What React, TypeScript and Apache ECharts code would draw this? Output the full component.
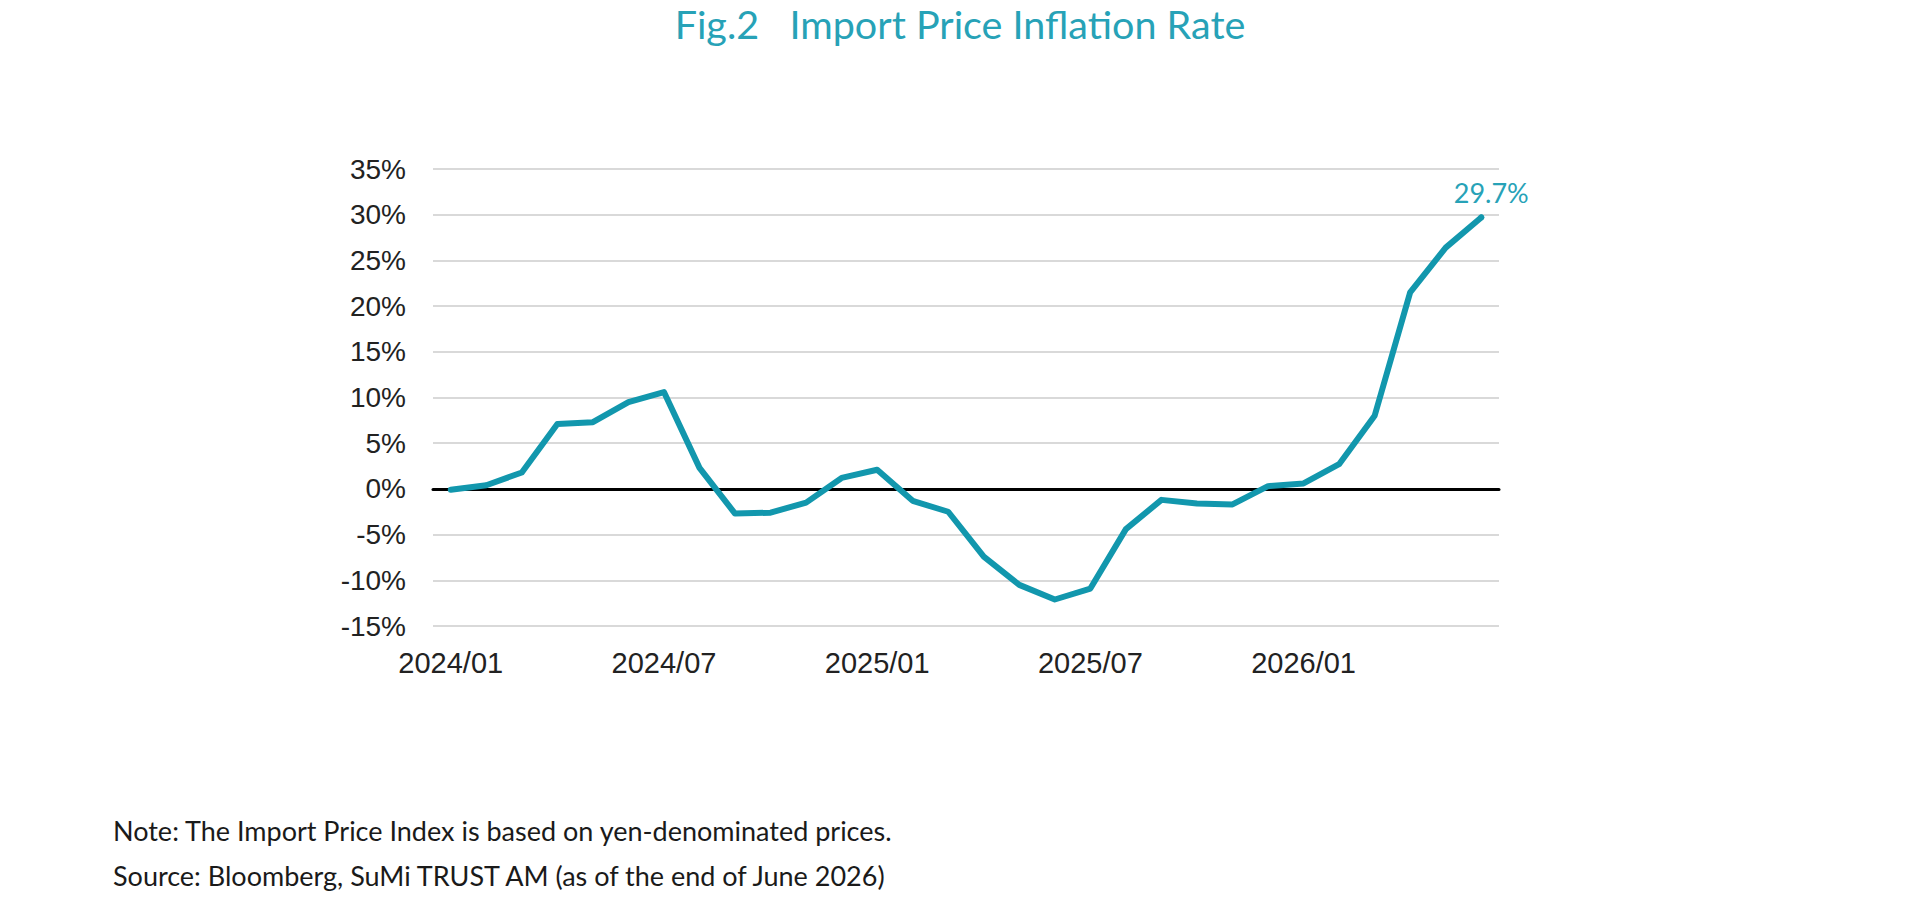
import React, { useEffect, useRef } from "react";
import * as echarts from "echarts";

// Monthly import price inflation (yen basis), YoY %
const months: string[] = [
  "2024/01", "2024/02", "2024/03", "2024/04", "2024/05", "2024/06",
  "2024/07", "2024/08", "2024/09", "2024/10", "2024/11", "2024/12",
  "2025/01", "2025/02", "2025/03", "2025/04", "2025/05", "2025/06",
  "2025/07", "2025/08", "2025/09", "2025/10", "2025/11", "2025/12",
  "2026/01", "2026/02", "2026/03", "2026/04", "2026/05", "2026/06",
];

const inflation: number[] = [
  -0.1, 0.4, 1.8, 7.1, 7.3, 9.5, 10.6, 2.3, -2.7, -2.6, -1.5, 1.2,
  2.1, -1.3, -2.5, -7.4, -10.5, -12.1, -10.9, -4.4, -1.2, -1.6, -1.7, 0.3,
  0.6, 2.7, 8.0, 21.5, 26.4, 29.7,
];

const yTicks = { min: -15, max: 35, step: 5 };

const titleText = "Fig.2   Import Price Inflation Rate";
const noteLines: string[] = [
  "Note: The Import Price Index is based on yen-denominated prices.",
  "Source: Bloomberg, SuMi TRUST AM (as of the end of June 2026)",
];

const TEAL = "#1297ad";
const TEAL_TEXT = "#27a2b7";

export default function App() {
  const ref = useRef<HTMLDivElement>(null);

  useEffect(() => {
    if (!ref.current) return;
    const chart = echarts.init(ref.current, undefined, { renderer: "svg" });

    const lastIdx = inflation.length - 1;
    const seriesData = inflation.map((v, i) =>
      i === lastIdx
        ? {
            value: v,
            symbolSize: 6,
            label: {
              show: true,
              position: "top",
              distance: 8,
              offset: [10, 0],
              formatter: "{c}%",
              color: TEAL_TEXT,
              fontFamily: "Lato",
              fontSize: 27,
            },
          }
        : { value: v }
    );

    chart.setOption({
      animation: false,
      backgroundColor: "#ffffff",
      title: {
        text: titleText,
        left: "center",
        top: -2,
        textStyle: {
          color: TEAL_TEXT,
          fontFamily: "Lato",
          fontWeight: "normal",
          fontSize: 39.5,
        },
      },
      grid: { left: 433, right: 421, top: 169, bottom: 285, containLabel: false },
      xAxis: [
        {
          type: "category",
          data: months,
          boundaryGap: true,
          axisLine: { show: false, onZero: false },
          axisTick: { show: false },
          axisLabel: {
            interval: 5,
            margin: 22,
            color: "#222222",
            fontFamily: "Liberation Sans",
            fontSize: 29,
          },
          splitLine: { show: false },
        },
        {
          type: "category",
          data: months,
          boundaryGap: true,
          position: "bottom",
          axisLine: { show: true, onZero: true, lineStyle: { color: "#000000", width: 3 } },
          axisTick: { show: false },
          axisLabel: { show: false },
          splitLine: { show: false },
        },
      ],
      yAxis: {
        type: "value",
        min: yTicks.min,
        max: yTicks.max,
        interval: yTicks.step,
        axisLine: { show: false },
        axisTick: { show: false },
        axisLabel: {
          formatter: "{value}%",
          margin: 27,
          color: "#222222",
          fontFamily: "Liberation Sans",
          fontSize: 28,
        },
        splitLine: { show: true, lineStyle: { color: "#d9d9d9", width: 2 } },
      },
      series: [
        {
          type: "line",
          xAxisIndex: 0,
          data: seriesData,
          showSymbol: true,
          symbol: "circle",
          symbolSize: 0,
          itemStyle: { color: TEAL },
          lineStyle: { color: TEAL, width: 6, cap: "round", join: "round" },
          label: { show: false },
          z: 5,
        },
      ],
      graphic: noteLines.map((line, i) => ({
        type: "text",
        left: 113,
        top: 817 + i * 45,
        style: {
          text: line,
          fill: "#1a1a1a",
          font: "27px Lato",
        },
      })),
    });

    return () => chart.dispose();
  }, []);

  return (
    <div
      ref={ref}
      style={{ position: "fixed", left: 0, top: 0, width: 1920, height: 911, background: "#fff" }}
    />
  );
}
